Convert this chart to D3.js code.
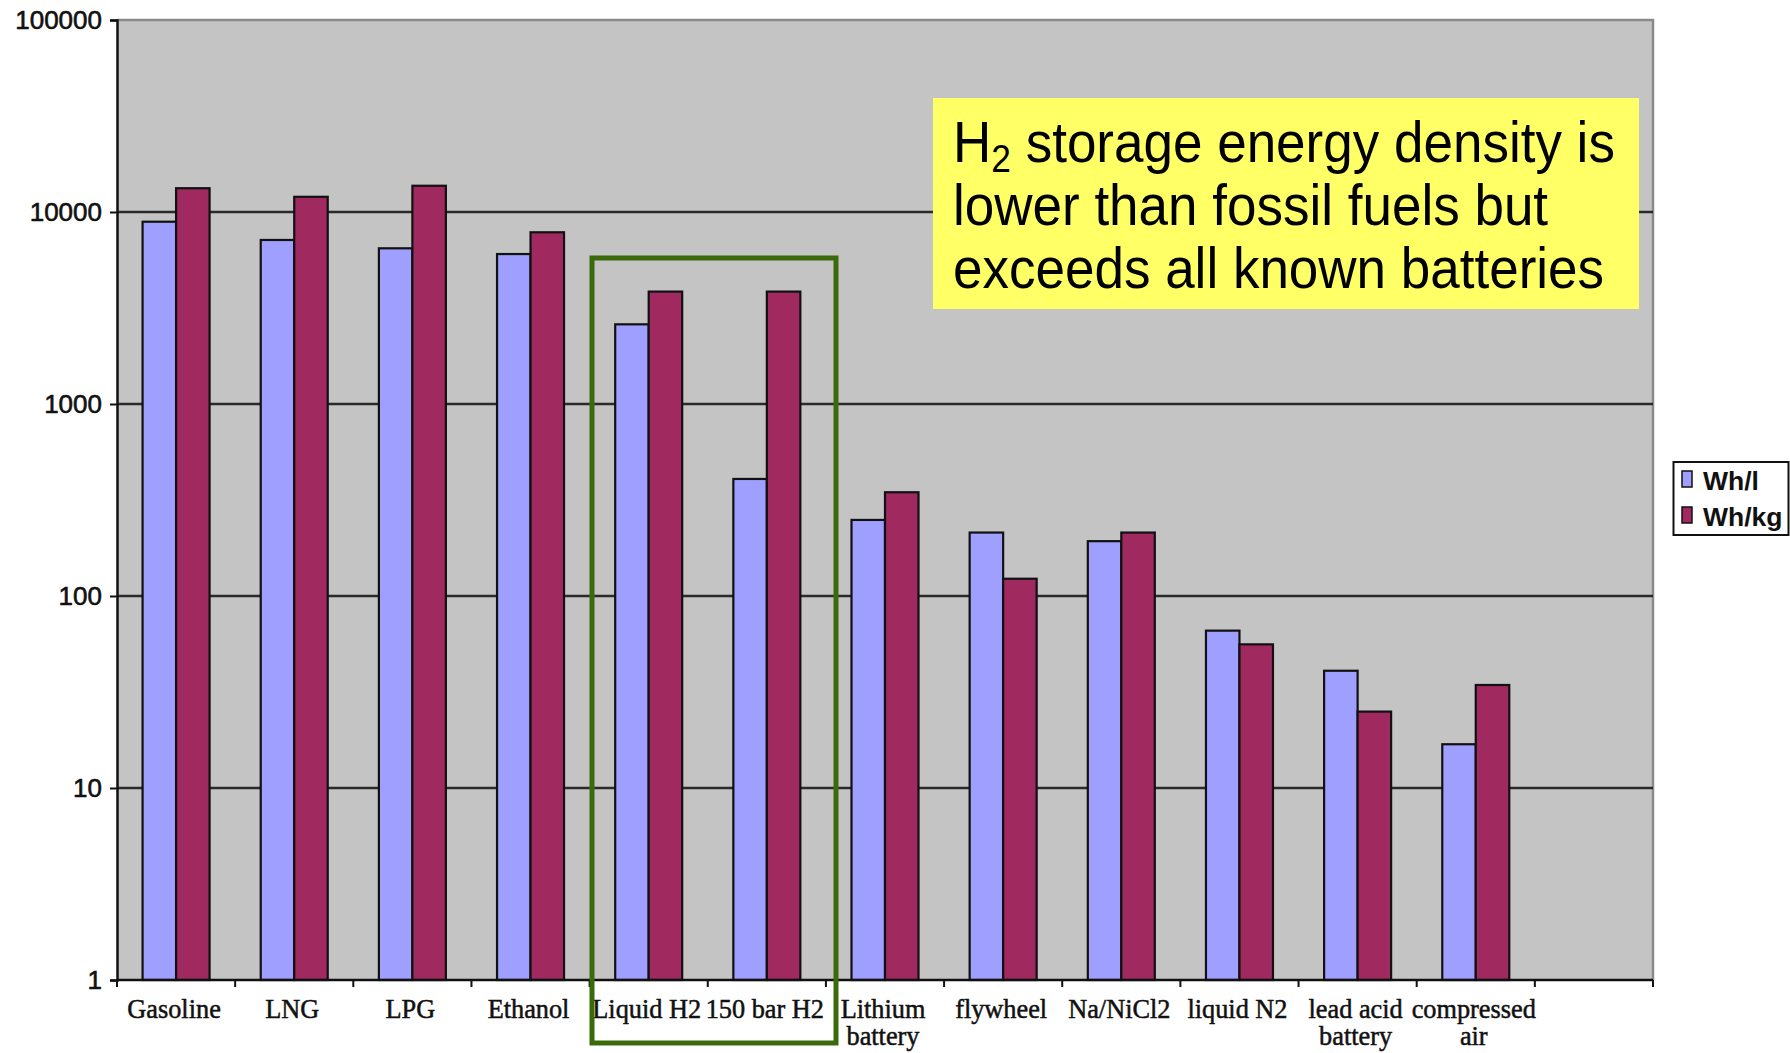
<!DOCTYPE html>
<html>
<head>
<meta charset="utf-8">
<script src="https://cdn.jsdelivr.net/npm/d3@7"></script>
<style>
  html, body { margin: 0; padding: 0; background: #fff; }
  svg { display: block; }
</style>
</head>
<body>
<svg id="chart" width="1790" height="1053"></svg>
<script>
// ---- data ----
const categories = ["Gasoline", "LNG", "LPG", "Ethanol", "Liquid H2", "150 bar H2",
  "Lithium\nbattery", "flywheel", "Na/NiCl2", "liquid N2", "lead acid\nbattery", "compressed\nair", ""];
const seriesNames = ["Wh/l", "Wh/kg"];
const whPerLiter = [8900, 7150, 6470, 6040, 2600, 407, 249, 214, 193, 66, 40.8, 16.9, null];
const whPerKg = [13300, 12000, 13700, 7840, 3850, 3850, 347, 123, 214, 56, 25, 34.4, null];
const yTicks = [1, 10, 100, 1000, 10000, 100000];
const noteLines = [["H", "2", " storage energy density is"], ["lower than fossil fuels but"], ["exceeds all known batteries"]];

// ---- layout ----
const W = 1790, H = 1053;
const plot = { left: 117, right: 1653, top: 20, bottom: 980 };
const colors = ["#9f9fff", "#a0295f"];

const svg = d3.select("#chart");
svg.append("rect").attr("width", W).attr("height", H).attr("fill", "#fff");

const x = d3.scaleBand().domain(categories).range([plot.left, plot.right])
  .paddingInner(0.433).paddingOuter(0.433 / 2);
const xs = d3.scaleBand().domain(seriesNames).range([0, x.bandwidth()]);
const y = d3.scaleLog().domain([1, 100000]).range([plot.bottom, plot.top]);

// plot background
svg.append("rect")
  .attr("x", plot.left).attr("y", plot.top)
  .attr("width", plot.right - plot.left).attr("height", plot.bottom - plot.top)
  .attr("fill", "#c4c4c4");

// top & right border (gray)
svg.append("path")
  .attr("d", `M${plot.left},${y(100000)}H${plot.right}V${plot.bottom}`)
  .attr("fill", "none").attr("stroke", "#8a8a8a").attr("stroke-width", 2.5);

// gridlines
svg.append("g").selectAll("line")
  .data(yTicks.filter(t => t > 1 && t < 100000))
  .join("line")
  .attr("x1", plot.left).attr("x2", plot.right)
  .attr("y1", d => y(d)).attr("y2", d => y(d))
  .attr("stroke", "#2a2a2a").attr("stroke-width", 2.5);

// bars
const rows = categories.map((c, i) => ({ c, vals: [whPerLiter[i], whPerKg[i]] }));
const g = svg.append("g").selectAll("g").data(rows).join("g")
  .attr("transform", d => `translate(${x(d.c)},0)`);
g.selectAll("rect")
  .data(d => d.vals.map((v, j) => ({ v, s: seriesNames[j], j })).filter(e => e.v != null))
  .join("rect")
  .attr("x", d => xs(d.s))
  .attr("width", xs.bandwidth())
  .attr("y", d => y(d.v))
  .attr("height", d => y(1) - y(d.v))
  .attr("fill", d => colors[d.j])
  .attr("stroke", "#111").attr("stroke-width", 2.2);

// y axis
const yAxis = d3.axisLeft(y).tickValues(yTicks).tickFormat(d3.format("d"))
  .tickSize(7).tickPadding(8);
const ya = svg.append("g").attr("transform", `translate(${plot.left},0)`).call(yAxis);
ya.select(".domain").attr("stroke", "#111").attr("stroke-width", 2.5);
ya.selectAll(".tick line").attr("stroke", "#111").attr("stroke-width", 2);
ya.selectAll(".tick text")
  .attr("font-family", "'Liberation Sans', Arial, sans-serif")
  .attr("font-size", 26).attr("fill", "#111")
  .attr("stroke", "#111").attr("stroke-width", 0.6);

// x axis line
svg.append("line")
  .attr("x1", plot.left).attr("x2", plot.right)
  .attr("y1", plot.bottom).attr("y2", plot.bottom)
  .attr("stroke", "#111").attr("stroke-width", 2.5);

// x boundary ticks
const half = x.step() * x.paddingOuter();
const bounds = categories.map(c => x(c) - half).concat([x(categories[categories.length - 1]) - half + x.step()]);
svg.append("g").selectAll("line").data(bounds).join("line")
  .attr("x1", d => d).attr("x2", d => d)
  .attr("y1", plot.bottom).attr("y2", plot.bottom + 7)
  .attr("stroke", "#111").attr("stroke-width", 2);

// x labels
const xl = svg.append("g").selectAll("text").data(categories).join("text")
  .attr("x", d => x(d) + x.bandwidth() / 2 - 2)
  .attr("y", 1018)
  .attr("text-anchor", "middle")
  .attr("font-family", "'Liberation Serif', 'Times New Roman', serif")
  .attr("font-size", 26.3).attr("fill", "#111")
  .attr("stroke", "#111").attr("stroke-width", 0.5);
xl.selectAll("tspan").data(d => d.split("\n")).join("tspan")
  .attr("x", function () { return d3.select(this.parentNode).attr("x"); })
  .attr("dy", (d, i) => i === 0 ? 0 : 27)
  .text(d => d);

// legend
const lg = svg.append("g");
lg.append("rect").attr("x", 1673.5).attr("y", 462).attr("width", 115).attr("height", 73)
  .attr("fill", "#fff").attr("stroke", "#111").attr("stroke-width", 2);
seriesNames.forEach((s, i) => {
  lg.append("rect").attr("x", 1682).attr("y", 471 + i * 36).attr("width", 10).attr("height", 16)
    .attr("fill", colors[i]).attr("stroke", "#111").attr("stroke-width", 1.5);
  lg.append("text").attr("x", 1703).attr("y", 490 + i * 36)
    .attr("font-family", "'Liberation Sans', Arial, sans-serif")
    .attr("font-weight", "bold").attr("font-size", 26.5).attr("fill", "#111")
    .text(s);
});

// annotation box
svg.append("rect").attr("x", 933).attr("y", 98).attr("width", 706).attr("height", 211)
  .attr("fill", "#ffff66");
const nt = svg.append("g").attr("transform", "translate(953,0) scale(0.93,1)");
noteLines.forEach((parts, i) => {
  const t = nt.append("text").attr("x", 0).attr("y", 162 + i * 63)
    .attr("font-family", "'Liberation Sans', Arial, sans-serif")
    .attr("font-size", 57).attr("fill", "#000");
  if (parts.length === 3) {
    t.append("tspan").text(parts[0]);
    t.append("tspan").attr("font-size", 38).attr("dy", 10).text(parts[1]);
    t.append("tspan").attr("dy", -10).text(parts[2]);
  } else {
    t.text(parts[0]);
  }
});

// green highlight box
svg.append("rect").attr("x", 592).attr("y", 258).attr("width", 244).attr("height", 785)
  .attr("fill", "none").attr("stroke", "#3a6a0c").attr("stroke-width", 5);
</script>
</body>
</html>
